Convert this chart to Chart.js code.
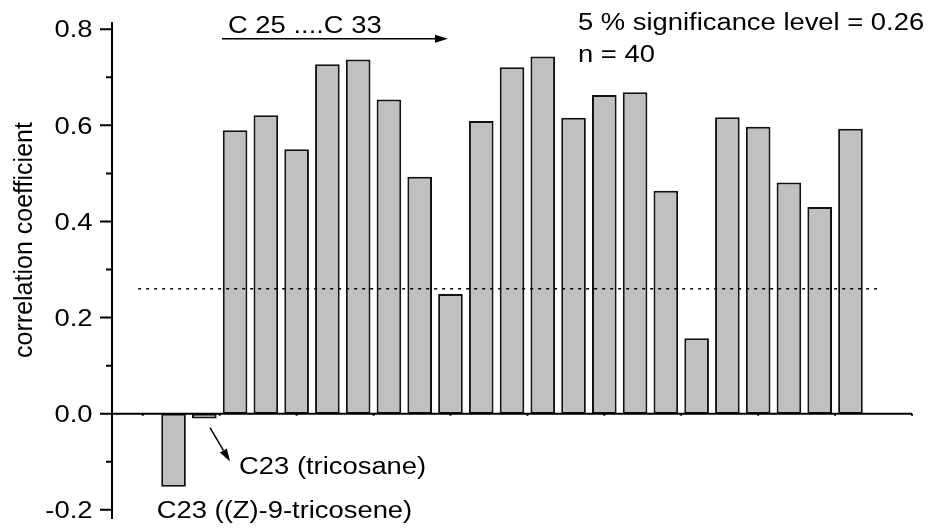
<!DOCTYPE html>
<html>
<head>
<meta charset="utf-8">
<script src="https://cdn.jsdelivr.net/npm/chart.js@4.4.1/dist/chart.umd.min.js"></script>
<style>
  body { margin: 0; background: #fff; }
</style>
</head>
<body>
<canvas id="chart" width="931" height="530"></canvas>
<script>
// compounds in order, C23 alkene, C23 alkane, then C25 ... C33 etc.
const positions = [0, 1, 2, 3, 4, 5, 6, 7, 8, 9, 10, 11, 12, 13, 14, 15, 16, 17, 18, 19, 20, 21, 22];
const correlations = [
  -0.152, -0.010, 0.590, 0.621, 0.550, 0.727, 0.737, 0.654, 0.493, 0.249, 0.609, 0.721,
  0.743, 0.616, 0.663, 0.669, 0.464, 0.157, 0.617, 0.597, 0.481, 0.430, 0.593
];
const significance = 0.26;
const sigLineFrom = -1.15;
const sigLineTo = 22.86;

const yMajorTicks = [-0.2, 0, 0.2, 0.4, 0.6, 0.8];
const yTickLabels = ['-0.2', '0.0', '0.2', '0.4', '0.6', '0.8'];
const yMinorTicks = [-0.1, 0.1, 0.3, 0.5, 0.7];
const xTicks = [-1, 1.5, 4, 6.5, 9, 11.5, 14, 16.5, 19, 21.5, 24];

const FONT = '"Liberation Sans", Arial, sans-serif';
const SX = 1.19; // the text in the figure is a bit wide

function wideText(ctx, text, x, y, align) {
  ctx.save();
  ctx.translate(x, y);
  ctx.scale(SX, 1);
  ctx.textAlign = align;
  ctx.textBaseline = 'alphabetic';
  ctx.fillText(text, 0, 0);
  ctx.restore();
}

function arrow(ctx, x1, y1, x2, y2) {
  const a = Math.atan2(y2 - y1, x2 - x1);
  const len = 13, half = 4;
  ctx.beginPath();
  ctx.moveTo(x1, y1);
  ctx.lineTo(x2 - len * Math.cos(a), y2 - len * Math.sin(a));
  ctx.stroke();
  ctx.beginPath();
  ctx.moveTo(x2, y2);
  ctx.lineTo(x2 - len * Math.cos(a) + half * Math.sin(a), y2 - len * Math.sin(a) - half * Math.cos(a));
  ctx.lineTo(x2 - len * Math.cos(a) - half * Math.sin(a), y2 - len * Math.sin(a) + half * Math.cos(a));
  ctx.closePath();
  ctx.fill();
}

const axesAndNotes = {
  id: 'axesAndNotes',
  afterDatasetsDraw(chart) {
    const { ctx, chartArea, scales } = chart;
    const x = scales.x, y = scales.y;
    const px = v => x.getPixelForValue(v);
    const py = v => y.getPixelForValue(v);
    const left = chartArea.left;

    ctx.save();
    ctx.strokeStyle = '#000';
    ctx.fillStyle = '#000';
    ctx.lineWidth = 2;

    // y axis
    ctx.beginPath();
    ctx.moveTo(left, chartArea.top);
    ctx.lineTo(left, chartArea.bottom);
    yMajorTicks.forEach(v => { ctx.moveTo(left - 12, py(v)); ctx.lineTo(left, py(v)); });
    yMinorTicks.forEach(v => { ctx.moveTo(left - 6, py(v)); ctx.lineTo(left, py(v)); });
    // x axis through zero
    ctx.moveTo(left, py(0));
    ctx.lineTo(chartArea.right, py(0));
    xTicks.forEach(v => { ctx.moveTo(px(v), py(0)); ctx.lineTo(px(v), py(0) + 2); });
    ctx.stroke();

    ctx.font = '23px ' + FONT;
    yMajorTicks.forEach((v, i) => wideText(ctx, yTickLabels[i], left - 19.5, py(v) + 8.2, 'right'));

    // y title
    ctx.save();
    ctx.font = '25px ' + FONT;
    ctx.translate(32, 240);
    ctx.rotate(-Math.PI / 2);
    ctx.textAlign = 'center';
    ctx.textBaseline = 'alphabetic';
    ctx.fillText('correlation coefficient', 0, 0);
    ctx.restore();

    // notes
    ctx.font = '23px ' + FONT;
    wideText(ctx, 'C 25 ....C 33', px(1.77), py(0.792), 'left');
    wideText(ctx, '5 % significance level = 0.26', px(13.145), py(0.798), 'left');
    wideText(ctx, 'n = 40', px(13.145), py(0.732), 'left');
    wideText(ctx, 'C23 (tricosane)', px(2.13), py(-0.125), 'left');
    wideText(ctx, 'C23 ((Z)-9-tricosene)', px(-0.547), py(-0.217), 'left');

    ctx.lineWidth = 1.5;
    arrow(ctx, px(1.575), py(0.78), px(8.92), py(0.78));
    arrow(ctx, px(1.185), py(-0.029), px(1.835), py(-0.0996));
    ctx.restore();
  }
};

new Chart(document.getElementById('chart'), {
  type: 'bar',
  data: {
    datasets: [
      {
        type: 'line',
        order: 0,
        data: [{ x: sigLineFrom, y: significance }, { x: sigLineTo, y: significance }],
        borderColor: '#000',
        borderWidth: 1.5,
        borderDash: [3, 5],
        pointRadius: 0,
        fill: false,
      },
      {
        type: 'bar',
        order: 1,
        data: positions.map((p, i) => ({ x: p, y: correlations[i] })),
        backgroundColor: '#c0c0c0',
        borderColor: '#111',
        borderWidth: 2,
        borderSkipped: false,
        barPercentage: 0.8,
        categoryPercentage: 1,
      },
    ],
  },
  options: {
    responsive: false,
    animation: false,
    devicePixelRatio: 1,
    layout: { padding: { left: 112, right: 19, top: 22, bottom: 11 } },
    scales: {
      x: { type: 'linear', min: -2, max: 24, offset: false, display: false },
      y: { type: 'linear', min: -0.219, max: 0.815, display: false },
    },
    plugins: {
      legend: { display: false },
      tooltip: { enabled: false },
    },
  },
  plugins: [axesAndNotes],
});
</script>
</body>
</html>
